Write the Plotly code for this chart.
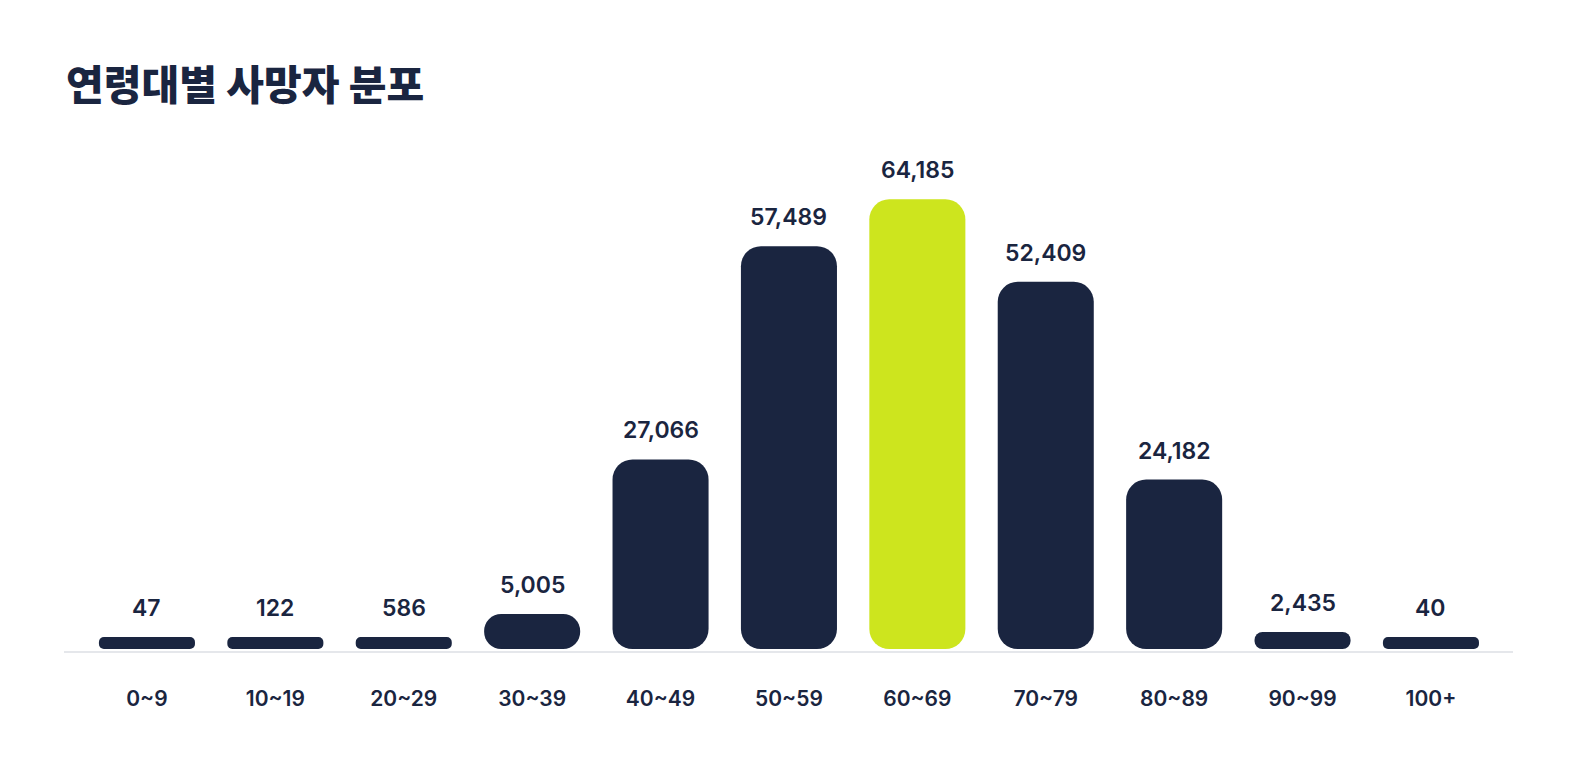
import numpy as np
import plotly.graph_objects as go

categories = ["0~9", "10~19", "20~29", "30~39", "40~49", "50~59", "60~69", "70~79", "80~89", "90~99", "100+"]
deaths = [47, 122, 586, 5005, 27066, 57489, 64185, 52409, 24182, 2435, 40]
title_text = "연령대별 사망자 분포"

NAVY = "#1A2540"
LIME = "#CDE51E"
MIN_VISIBLE = 1700  # minimum drawn length so tiny bars stay visible

PX_PER_UNIT = 0.007006
PLOT_TOP = 140
ZERO_PX = 649

vals = np.array(deaths, dtype=float)
shown = np.maximum(vals, MIN_VISIBLE)
hi = int(np.argmax(vals))

fig = go.Figure()
for i, (c, v, s) in enumerate(zip(categories, vals, shown)):
    col = LIME if i == hi else NAVY
    r = float(min(20.0, s * PX_PER_UNIT / 2))
    fig.add_trace(go.Bar(x=[c], y=[s], base=[0],
                         marker=dict(color=col, cornerradius=r, line=dict(width=0)),
                         opacity=1, customdata=[v],
                         hovertemplate="%{x}: %{customdata:,}<extra></extra>",
                         showlegend=False))
    fig.add_annotation(x=c, y=s, text=f"{int(v):,}", showarrow=False,
                       yanchor="middle", yshift=29,
                       font=dict(family="Inter", size=23, color=NAVY, weight=600))

top_units = (ZERO_PX - PLOT_TOP) / PX_PER_UNIT
bottom_units = -2 / PX_PER_UNIT

fig.update_layout(
    width=1583, height=757,
    margin=dict(l=64, r=70, t=PLOT_TOP, b=106),
    paper_bgcolor="white", plot_bgcolor="white",
    barmode="overlay", bargap=0.252,
    title=dict(text=title_text, x=66 / 1583, xref="container", xanchor="left",
               y=1 - 86 / 757, yref="container", yanchor="middle",
               font=dict(family="Noto Sans CJK KR", size=41, color=NAVY, weight=900)),
    xaxis=dict(range=[-0.646, 10.639], showgrid=False, zeroline=False,
               showline=True, linecolor="#E5E7EB", linewidth=2,
               ticks="outside", ticklen=28, tickcolor="rgba(0,0,0,0)",
               tickfont=dict(family="Inter", size=21, color=NAVY, weight=600)),
    yaxis=dict(range=[bottom_units, top_units], visible=False, showgrid=False, zeroline=False),
)

fig.write_html("out.html")
